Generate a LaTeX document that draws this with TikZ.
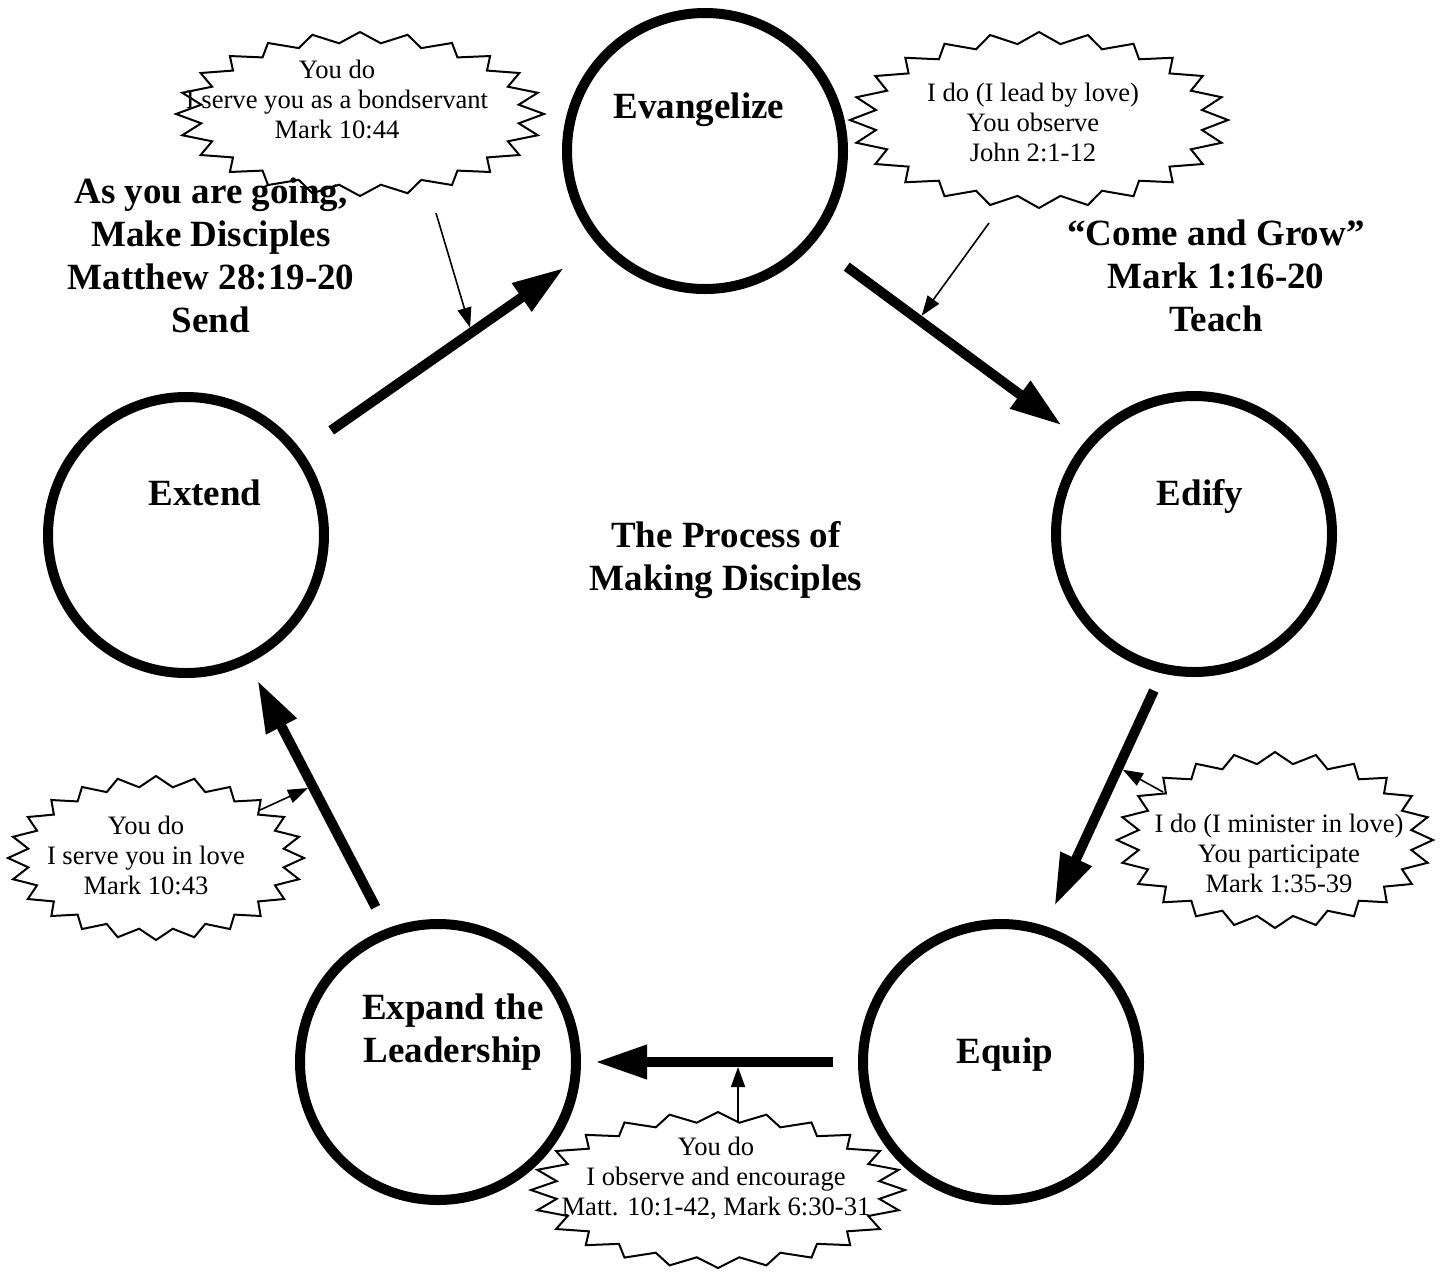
\documentclass[tikz,border=0pt]{standalone}
\usepackage{fontspec}
\setmainfont{Liberation Serif}
\usetikzlibrary{arrows.meta,calc}

\tikzset{
  stage/.style={circle, draw, line width=5pt, minimum size=138pt, inner sep=0pt},
  stagetext/.style={font=\fontsize{18.5}{21.5}\selectfont\bfseries, align=center},
  note/.style={font=\fontsize{13.3}{15}\selectfont, align=center},
  flow/.style={line width=5pt, -{Triangle[length=26pt,width=16pt]}},
  pointer/.style={line width=0.8pt, shorten >=2.5pt, -{Triangle[length=10pt,width=7pt]}},
  burst/.style={line width=1pt, line join=miter}
}

% 24-point burst: centre, x radius, y radius
\newcommand{\drawburst}[3]{%
  \draw[burst] ($(#1)+(#2,0)$)
    \foreach \k [evaluate=\k as \f using {1-0.13*mod(\k,2)}] in {1,...,47} {
      -- ($(#1)+({\f*#2*cos(7.5*\k)},{\f*#3*sin(7.5*\k)})$)
    } -- cycle;
}

\begin{document}
\begin{tikzpicture}[x=0.5pt,y=-0.5pt]
    \useasboundingbox (0,0) rectangle (1441,1271);

    % bursts
    \drawburst{360,114}{184}{82}
    \drawburst{1039,120}{189}{88}
    \drawburst{156,858}{148}{82}
    \drawburst{1275,840}{158}{88}
    \drawburst{718,1190}{187}{78}

    % the five stages
    \node[stage] (evangelize) at (705,151) {};
    \node[stage] (edify) at (1194,534) {};
    \node[stage] (equip) at (1001,1062) {};
    \node[stage] (expand) at (438,1062) {};
    \node[stage] (extend) at (186,535) {};

    \node[stagetext, anchor=base] (evangelize-text) at (699,118) {Evangelize};
    \node[stagetext, anchor=base] (edify-text) at (1200,505) {Edify};
    \node[stagetext, anchor=base] (equip-text) at (1005,1063) {Equip};
    \node[stagetext] (expand-text) at (453,1032) {Expand the\\Leadership};
    \node[stagetext, anchor=base] (extend-text) at (205,505) {Extend};

    % flow round the circle
    \draw[flow, shorten <=18pt, shorten >=20pt] (extend.36.6) -- coordinate[pos=0.575] (send-hit) (evangelize.221.4);
    \draw[flow, shorten <=20pt, shorten >=14pt] (evangelize.320.3) -- coordinate[pos=0.386] (teach-hit) (edify.140.5);
    \draw[flow, shorten <=9.5pt, shorten >=11pt] (edify.257.2) -- coordinate[pos=0.372] (equip-hit) (equip.72);
    \draw[flow, shorten <=12.5pt, shorten >=7pt] (equip.180) -- coordinate[pos=0.433] (expand-hit) (expand.0);
    \draw[flow, shorten <=12pt, shorten >=9.5pt] (expand.111.5) -- coordinate[pos=0.538] (extend-hit) (extend.296.4);

    % notes
    \node[note] (serve-note) at (337,99) {You do\\I serve you as a bondservant\\Mark 10:44};
    \node[note] (lead-note) at (1033,122) {I do (I lead by love)\\You observe\\John 2:1-12};
    \node[note] (love-note) at (146,855) {You do\\I serve you in love\\Mark 10:43};
    \node[note] (minister-note) at (1279,853) {I do (I minister in love)\\You participate\\Mark 1:35-39};
    \node[note] (encourage-note) at (716,1178) {You do\\I observe and encourage\\Matt. 10:1-42, Mark 6:30-31};

    \coordinate (serve-tail) at (436,213);
    \coordinate (lead-tail) at (989,223);
    \coordinate (love-tail) at (260,810);
    \coordinate (minister-tail) at (1163,792);
    \coordinate (encourage-tail) at (738,1122);
    \draw[pointer] (serve-tail) -- (send-hit);
    \draw[pointer] (lead-tail) -- (teach-hit);
    \draw[pointer] (minister-tail) -- (equip-hit);
    \draw[pointer] (encourage-tail) -- (expand-hit);
    \draw[pointer] (love-tail) -- (extend-hit);

    % headings
    \node[stagetext] (send-text) at (211,255) {As you are going,\\Make Disciples\\Matthew 28:19-20\\Send};
    \node[stagetext] (teach-text) at (1216,276) {“Come and Grow”\\Mark 1:16-20\\Teach};
    \node[stagetext] (title) at (726,560) {The Process of\\Making Disciples};
\end{tikzpicture}
\end{document}
